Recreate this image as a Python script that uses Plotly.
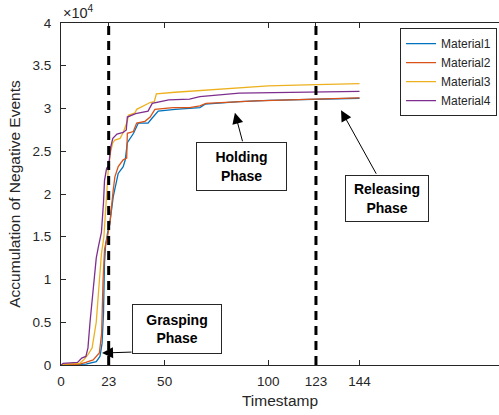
import plotly.graph_objects as go

# Accumulated negative events per material over the grasp timeline
m1_t = [0, 12, 17, 18.8, 19.8, 20.5, 21, 21.5, 22.5, 23.5, 25.2, 27.6, 30, 31, 32, 34, 35,
        37.3, 42, 43.7, 46.9, 55, 62, 67, 69.5, 86, 100, 123, 144]
m1_v = [0, 100, 400, 1000, 2500, 6000, 12000, 14000, 15500, 16500, 19700, 22400, 23200,
        24000, 26000, 26700, 27100, 28300, 28300, 28800, 29700, 29900, 30000, 30100, 30500,
        30800, 30950, 31100, 31200]

m2_t = [0, 9, 12, 15.5, 18.5, 19.6, 20.3, 21, 22.4, 23.6, 25.2, 26, 27.6, 30, 31.7, 32,
        34.9, 36.5, 40.5, 43, 45.3, 54, 62, 67, 70, 86, 94, 123, 144]
m2_v = [0, 100, 300, 600, 1400, 3700, 10000, 13500, 15000, 16600, 20500, 22000, 23200,
        24000, 24200, 27100, 27300, 28300, 28500, 29000, 29900, 30100, 30100, 30300, 30600,
        30800, 30900, 31100, 31250]

m3_t = [0, 1, 9, 11, 13, 15, 17, 18.5, 19.5, 20.7, 22, 22.8, 24, 25, 26, 28.5, 30, 32,
        32.5, 35.7, 36.5, 43, 45, 46, 55, 67, 69.5, 86, 100, 123, 144]
m3_v = [0, 100, 200, 600, 1200, 2000, 5000, 10000, 13000, 15000, 20000, 22800, 25000,
        26000, 26300, 26500, 27200, 28500, 29200, 29500, 29900, 30700, 30800, 31700, 31900,
        32100, 32200, 32500, 32650, 32800, 32900]

m4_t = [0, 1, 8, 10, 12, 13, 14, 16, 17, 18, 19.5, 20.5, 21, 22, 23, 24, 25, 27, 30, 31.5,
        32, 36, 42, 44, 48, 52, 62, 67, 86, 123, 144]
m4_v = [0, 200, 300, 800, 1000, 2000, 5000, 10000, 12500, 13800, 15500, 19000, 21600,
        23000, 23300, 25500, 26500, 27000, 27200, 27500, 29000, 29400, 29700, 30600, 30800,
        31000, 31100, 31400, 31800, 31900, 32000]

series_names = ["Material1", "Material2", "Material3", "Material4"]
series_colors = ["#0072BD", "#D95319", "#EDB120", "#7E2F8E"]

x_ticks = [0, 23, 50, 100, 123, 144]
y_ticks = [0, 5000, 10000, 15000, 20000, 25000, 30000, 35000, 40000]
y_tick_text = ["0", "0.5", "1", "1.5", "2", "2.5", "3", "3.5", "4"]

phase_bounds = [23, 123]
phase_labels = ["Grasping<br>Phase", "Holding<br>Phase", "Releasing<br>Phase"]
# arrow tip positions (timestamp, events) for each phase label
phase_tips = [(19.8, 1400), (83.9, 29500), (135.1, 29800)]

INK = "#262626"
FONT = "Liberation Sans, Arial, sans-serif"

fig = go.Figure()
for name, color, t, v in zip(series_names, series_colors,
                             [m1_t, m2_t, m3_t, m4_t], [m1_v, m2_v, m3_v, m4_v]):
    fig.add_trace(go.Scatter(x=t, y=v, mode="lines", name=name,
                             line=dict(color=color, width=1.3)))

for xb in phase_bounds:
    fig.add_shape(type="line", xref="x", yref="paper", x0=xb, x1=xb, y0=0, y1=1,
                  line=dict(color="black", width=3, dash="9px,6px"), layer="above")

# text boxes: offset of the box centre from the tip (px) and box size
box_offsets = [(75, -24), (7, 54), (46, 88)]
box_sizes = [(86, 46), (87, 45), (80, 43)]
# arrow tails: offset of the tail from the tip (px)
tail_offsets = [(31, -1), (8, 30), (36, 65)]
for label, (tx, ty), (bx, by), (w, h), (ax, ay) in zip(
        phase_labels, phase_tips, box_offsets, box_sizes, tail_offsets):
    fig.add_annotation(x=tx, y=ty, xref="x", yref="y", text="",
                       showarrow=True, ax=ax, ay=ay, arrowhead=2, arrowsize=2.2,
                       arrowwidth=1, arrowcolor="black", standoff=0)
    fig.add_annotation(x=tx, y=ty, xref="x", yref="y", text="<b>%s</b>" % label,
                       showarrow=False, xshift=bx, yshift=-by,
                       font=dict(family=FONT, size=14, color="black"),
                       bordercolor=INK, borderwidth=1, bgcolor="white",
                       width=w, height=h, align="center", valign="middle")

fig.add_annotation(x=0, y=1, xref="paper", yref="paper", xanchor="left", yanchor="bottom",
                   text="\u00d710<sup>4</sup>", showarrow=False, yshift=0,
                   font=dict(family=FONT, size=14.5, color=INK))

fig.update_layout(
    width=499, height=415,
    margin=dict(l=61, r=0, t=23, b=50),
    paper_bgcolor="white", plot_bgcolor="white",
    font=dict(family=FONT, size=13.5, color=INK),
    showlegend=True,
    legend=dict(x=0.9955, y=0.985, xanchor="right", yanchor="top",
                bgcolor="white", bordercolor=INK, borderwidth=1,
                font=dict(family=FONT, size=12, color=INK),
                tracegroupgap=0, itemwidth=30),
    xaxis=dict(range=[0, 211.3], tickmode="array", tickvals=x_ticks,
               ticks="inside", ticklen=5, tickcolor=INK, showline=True, linecolor=INK,
               linewidth=1, mirror="ticks", showgrid=False, zeroline=False,
               title=dict(text="Timestamp", font=dict(size=15.5), standoff=6),
               ticklabelstandoff=4),
    yaxis=dict(range=[0, 40000], tickmode="array", tickvals=y_ticks, ticktext=y_tick_text,
               ticks="inside", ticklen=5, tickcolor=INK, showline=True, linecolor=INK,
               linewidth=1, mirror=False, showgrid=False, zeroline=False,
               title=dict(text="Accumulation of Negative Events", font=dict(size=15.5),
                          standoff=8),
               ticklabelstandoff=6),
)

fig.write_html("out.html")
